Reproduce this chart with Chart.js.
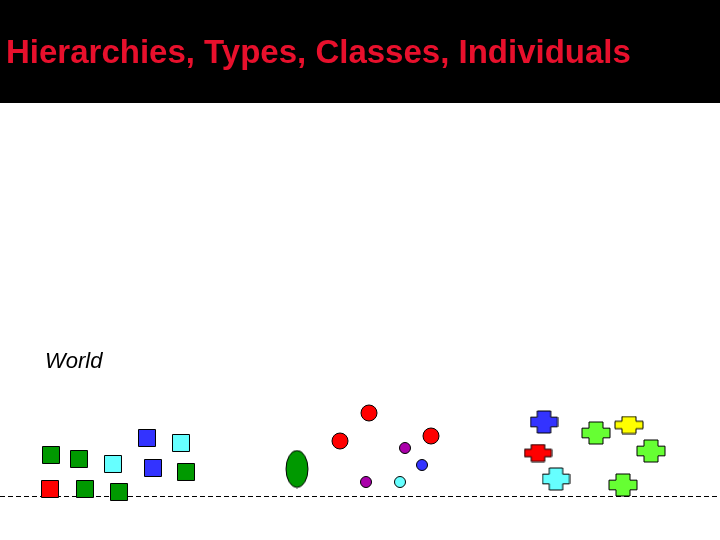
<!DOCTYPE html>
<html><head><meta charset="utf-8">
<script src="https://cdn.jsdelivr.net/npm/chart.js@4"></script>
<style>html,body{margin:0;padding:0;background:#fff}#wrap{width:720px;height:540px}</style>
</head><body>
<div id="wrap"><canvas id="c" width="720" height="540"></canvas></div>
<script>
// slide coordinates of each object (x, y in pixels from top-left)
const greenSquares = [[51,455],[79,459],[186,472],[85,489],[119,492]];
const redSquares = [[50,489]];
const cyanSquares = [[113,464],[181,443]];
const blueSquares = [[147,438],[153,468]];
const greenEllipse = [[297,469]];
const redCircles = [[369,413],[340,441],[431,436]];
const purpleCircles = [[405,448],[366,482]];
const blueCircles = [[422,465]];
const cyanCircles = [[400,482]];
const blueCross = [[544,422]];
const redCross = [[538,453]];
const cyanCross = [[556,479]];
const greenCross = [[596,433],[651,451],[623,485]];
const yellowCross = [[629,425]];

function pts(a) { return a.map(p => ({ x: p[0], y: p[1] })); }

function makeShape(kind, color, w, h) {
  const c = document.createElement('canvas');
  c.width = w + 2; c.height = h + 2;
  const g = c.getContext('2d');
  g.fillStyle = color; g.strokeStyle = '#000'; g.lineWidth = 1;
  g.beginPath();
  if (kind === 'ellipse') {
    g.ellipse(c.width / 2, c.height / 2, w / 2, h / 2, 0, 0, Math.PI * 2);
  } else {
    const x0 = 1, y0 = 1, cx = w * 0.25, cy = h * 0.28;
    g.moveTo(x0 + cx, y0); g.lineTo(x0 + w - cx, y0); g.lineTo(x0 + w - cx, y0 + cy);
    g.lineTo(x0 + w, y0 + cy); g.lineTo(x0 + w, y0 + h - cy); g.lineTo(x0 + w - cx, y0 + h - cy);
    g.lineTo(x0 + w - cx, y0 + h); g.lineTo(x0 + cx, y0 + h); g.lineTo(x0 + cx, y0 + h - cy);
    g.lineTo(x0, y0 + h - cy); g.lineTo(x0, y0 + cy); g.lineTo(x0 + cx, y0 + cy);
    g.closePath();
  }
  g.fill(); g.stroke();
  return c;
}

function ds(data, style, color, r) {
  return {
    data: pts(data), pointStyle: style, pointRadius: r, pointHoverRadius: r,
    backgroundColor: color, borderColor: '#000', borderWidth: 1, showLine: false
  };
}

const slidePlugin = {
  id: 'slide',
  beforeDatasetsDraw(chart) {
    const g = chart.ctx;
    g.save();
    g.fillStyle = '#000';
    g.fillRect(0, 0, 720, 103);
    g.fillStyle = '#e8102c';
    g.font = 'bold 33px "Liberation Sans", Arial, sans-serif';
    g.textBaseline = 'middle';
    g.fillText('Hierarchies, Types, Classes, Individuals', 6, 54);
    g.fillStyle = '#000';
    g.font = 'italic 22px "Liberation Sans", Arial, sans-serif';
    g.fillText('World', 45, 362);
    g.setLineDash([5, 3]);
    g.lineWidth = 1;
    g.strokeStyle = '#000';
    g.beginPath(); g.moveTo(0, 496.5); g.lineTo(720, 496.5); g.stroke();
    g.restore();
  }
};

new Chart(document.getElementById('c'), {
  type: 'scatter',
  data: {
    datasets: [
      ds(greenSquares, 'rect', '#009900', 12),
      ds(redSquares, 'rect', '#ff0000', 12),
      ds(cyanSquares, 'rect', '#66ffff', 12),
      ds(blueSquares, 'rect', '#3333ff', 12),
      ds(greenEllipse, makeShape('ellipse', '#009900', 22, 37), '#009900', 18),
      ds(redCircles, 'circle', '#ff0000', 8),
      ds(purpleCircles, 'circle', '#aa00aa', 5.5),
      ds(blueCircles, 'circle', '#3333ff', 5.5),
      ds(cyanCircles, 'circle', '#66ffff', 5.5),
      ds(blueCross, makeShape('cross', '#3333ff', 27, 22), '#3333ff', 13),
      ds(redCross, makeShape('cross', '#ff0000', 27, 17), '#ff0000', 13),
      ds(cyanCross, makeShape('cross', '#66ffff', 27, 22), '#66ffff', 13),
      ds(greenCross, makeShape('cross', '#66ff33', 28, 22), '#66ff33', 13),
      ds(yellowCross, makeShape('cross', '#ffff00', 28, 17), '#ffff00', 13)
    ]
  },
  plugins: [slidePlugin],
  options: {
    responsive: false, animation: false,
    layout: { padding: 0, autoPadding: false },
    plugins: { legend: { display: false }, tooltip: { enabled: false } },
    scales: {
      x: { type: 'linear', min: 0, max: 720, display: false },
      y: { type: 'linear', min: 0, max: 540, reverse: true, display: false }
    }
  }
});
</script>
</body></html>
